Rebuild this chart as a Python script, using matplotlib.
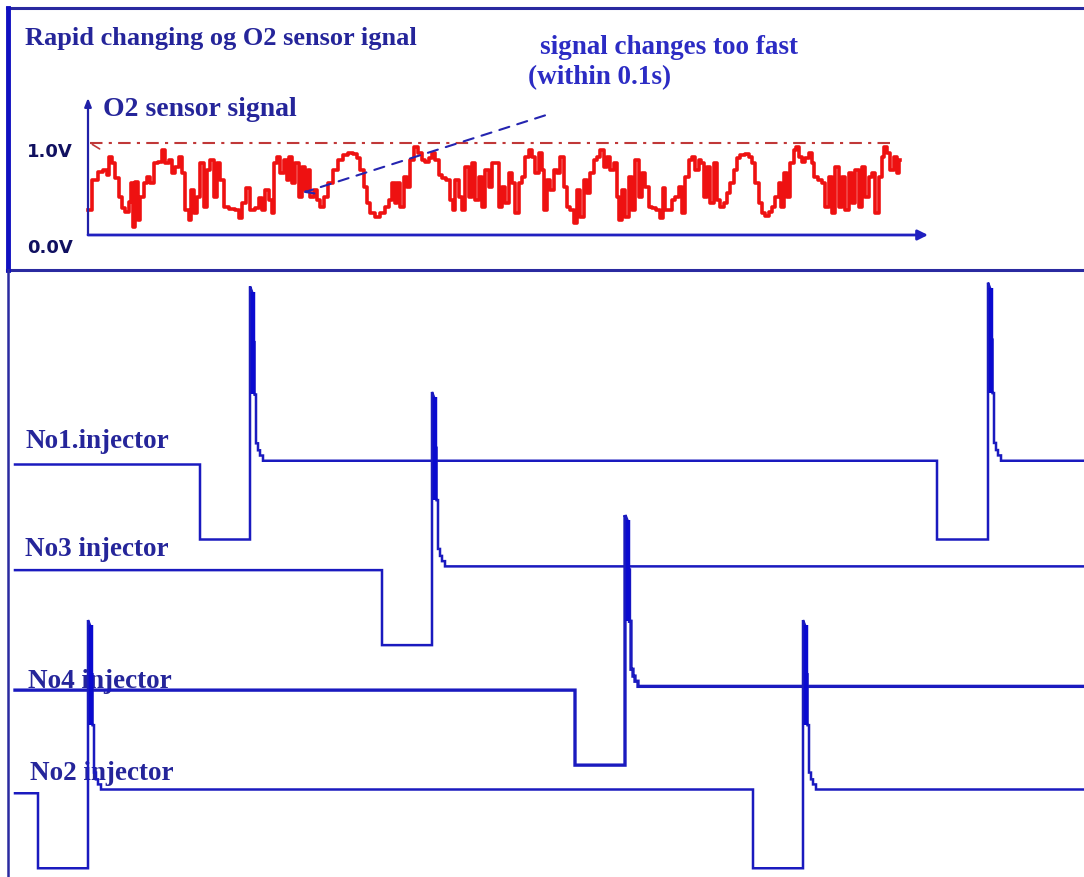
"""
O2 传感器信号快速变化 + 各缸喷油器波形示意图
"""

import numpy as np
import matplotlib.pyplot as plt

# ============================================================
# 数据：O2 传感器信号（时间 ms，电压 V）
# ============================================================

o2_t = [0, 35, 60, 85, 100, 110, 125, 145, 160, 175, 195, 210, 220, 225, 245, 250, 270, 285, 300, 320,
        335, 360, 375, 395, 410, 425, 445, 460, 475, 495, 510, 520, 535, 550, 570, 585, 600, 620, 635, 650,
        670, 685, 720, 745, 760, 775, 800, 820, 845, 860, 875, 895, 910, 925, 935, 950, 970, 985, 1000,
        1010, 1025, 1045, 1060, 1075, 1095, 1100, 1120, 1135, 1150, 1170, 1185, 1210, 1235, 1260, 1285,
        1310, 1335, 1350, 1370, 1385, 1400, 1420, 1445, 1470, 1495, 1510, 1525, 1540, 1550, 1570, 1585,
        1600, 1620, 1640, 1660, 1675, 1695, 1710, 1725, 1745, 1760, 1775, 1800, 1820, 1825, 1845, 1860,
        1875, 1895, 1910, 1925, 1945, 1960, 1975, 1995, 2010, 2025,
        2045, 2060, 2075, 2095, 2110, 2125, 2145, 2160, 2175, 2195, 2210, 2225, 2245, 2260, 2275, 2285,
        2300, 2320, 2335, 2350, 2370, 2385, 2400, 2420, 2435, 2450, 2470, 2485, 2500, 2520, 2535, 2550,
        2570, 2585, 2600, 2620, 2635, 2650, 2660, 2675, 2695, 2710, 2725, 2745, 2760, 2775, 2795, 2810,
        2825, 2850, 2870, 2875, 2895, 2910, 2925, 2945, 2960, 2975, 2995, 3010, 3025, 3045, 3060,
        3070, 3085, 3100, 3120, 3135, 3150, 3170, 3185, 3200, 3220, 3235, 3250, 3270, 3295, 3310, 3325,
        3345, 3360, 3375, 3395, 3410, 3425, 3445, 3460, 3470, 3485, 3500, 3520, 3535, 3545, 3560, 3575,
        3595, 3610, 3625, 3635, 3660, 3675, 3695, 3710, 3725, 3745, 3760, 3775, 3795, 3810, 3825, 3845,
        3860, 3875, 3895, 3910, 3925, 3945, 3960, 3975, 3985, 4000, 4020, 4035, 4050, 4060]

o2_v = [0.27, 0.60, 0.68, 0.71, 0.65, 0.85, 0.78, 0.62, 0.41, 0.29, 0.25, 0.36, 0.57, 0.09, 0.58, 0.16, 0.41, 0.57, 0.63, 0.57,
        0.78, 0.79, 0.92, 0.78, 0.82, 0.67, 0.74, 0.85, 0.67, 0.27, 0.16, 0.49, 0.24, 0.41, 0.78, 0.30, 0.71, 0.82, 0.41, 0.78,
        0.60, 0.30, 0.28, 0.27, 0.18, 0.35, 0.51, 0.27, 0.29, 0.40, 0.27, 0.49, 0.38, 0.24, 0.78, 0.85, 0.67, 0.82, 0.60,
        0.85, 0.57, 0.78, 0.41, 0.74, 0.49, 0.71, 0.41, 0.49, 0.38, 0.30, 0.41, 0.57, 0.71, 0.82, 0.87,
        0.89, 0.88, 0.84, 0.71, 0.52, 0.35, 0.24, 0.20, 0.24, 0.30, 0.38, 0.57, 0.35, 0.57, 0.30, 0.63,
        0.52, 0.82, 0.96, 0.89, 0.82, 0.79, 0.84, 0.89, 0.82, 0.65, 0.62, 0.60, 0.38, 0.27, 0.60, 0.41,
        0.27, 0.74, 0.41, 0.78, 0.38, 0.63, 0.30, 0.71, 0.52, 0.78,
        0.78, 0.30, 0.52, 0.35, 0.67, 0.57, 0.24, 0.57, 0.63, 0.85, 0.92, 0.85, 0.67, 0.89, 0.71, 0.27,
        0.60, 0.49, 0.71, 0.67, 0.85, 0.52, 0.30, 0.27, 0.13, 0.49, 0.20, 0.60, 0.46, 0.67, 0.82, 0.85,
        0.92, 0.74, 0.85, 0.71, 0.78, 0.41, 0.16, 0.49, 0.20, 0.63, 0.27, 0.82, 0.41, 0.67, 0.52, 0.30,
        0.29, 0.27, 0.18, 0.51, 0.27, 0.27, 0.38, 0.41, 0.52, 0.24, 0.63, 0.82, 0.85, 0.71, 0.82,
        0.78, 0.41, 0.74, 0.35, 0.78, 0.38, 0.30, 0.35, 0.46, 0.57, 0.71, 0.84, 0.87, 0.88, 0.85, 0.78,
        0.57, 0.35, 0.24, 0.21, 0.25, 0.30, 0.41, 0.57, 0.30, 0.67, 0.41, 0.78, 0.92, 0.96, 0.85, 0.79,
        0.84, 0.89, 0.78, 0.63, 0.60, 0.57, 0.30, 0.63, 0.24, 0.74, 0.30, 0.63, 0.27, 0.67, 0.35, 0.71,
        0.30, 0.74, 0.41, 0.63, 0.67, 0.24, 0.63, 0.85, 0.96, 0.89, 0.71, 0.85, 0.67, 0.82]

O2_T_AXIS = 4200      # 时间轴终点（ms）
O2_REF_V = 1.0        # 参考线电压
O2_REF_T = [10, 4010]
NOTE_FROM = (2285, 1.30)   # 注释箭头起点（ms, V）
NOTE_TO = (1075, 0.46)     # 注释箭头终点

# ============================================================
# 数据：喷油器波形（时间 ms，电压 V）
# ============================================================

inj_names = ['No1.injector', 'No3 injector', 'No4 injector', 'No2 injector']
inj_pulse_start = [[20.0, 93.7], [38.2], [57.5], [3.8, 75.3]]
inj_pulse_width = [[5.0, 5.1], [5.0], [5.0], [5.0, 5.0]]
inj_peak = [[40.5, 41.1], [40.5], [40.0], [39.7, 39.7]]
BATT_V = 12.0
BATT_V_AFTER = 12.6
T_START, T_END = 1.5, 108.4

# 关断尖峰衰减形状：相对时间（ms）与从峰值下降到基线的比例
spike_dt = [0, 0.2, 0.2, 0.45, 0.45, 0.6, 0.6, 0.8, 0.8, 1.0, 1.0, 1.3, 1.3, 2.0]
spike_frac = [0, 0.03, 0.32, 0.32, 0.62, 0.62, 0.90, 0.90, 0.94, 0.94, 0.97, 0.97, 1.0, 1.0]

assert len(o2_t) == len(o2_v)

# ============================================================
# 样式与布局
# ============================================================

W, H = 1084, 877
BORDER = '#2a2aa0'
TRACE = '#1a1abf'
TEXT_DARK = '#25259a'
TEXT_BLUE = '#2c2cc4'
RED = '#ee1111'
SERIF = ['Liberation Serif', 'DejaVu Serif']

ch_offset = [54.0, 37.1, 17.9, 1.4]          # 各通道 0V 在下图中的位置
ch_lw = [1.8, 1.8, 2.4, 1.8]
label_pos = [(25, 441), (25, 550), (28, 681), (30, 773)]

fig = plt.figure(figsize=(W / 100, H / 100), dpi=100)

# 背景画布（像素坐标）
canvas = fig.add_axes([0, 0, 1, 1])
canvas.set_xlim(0, W)
canvas.set_ylim(H, 0)
canvas.axis('off')

canvas.plot([7, W], [8, 8], color=BORDER, lw=2.2)
canvas.plot([7, W], [270, 270], color=BORDER, lw=2.2)
canvas.plot([7.5, 7.5], [8, 270], color='#1010c0', lw=3.5)
canvas.plot([8, 8], [270, H], color=BORDER, lw=1.8)

canvas.text(25, 38, 'Rapid changing og O2 sensor ignal', family=SERIF, weight='bold',
            fontsize=19, color=TEXT_DARK, va='center', ha='left')
canvas.text(540, 48, 'signal changes too fast', family=SERIF, weight='bold',
            fontsize=19.5, color=TEXT_BLUE, va='center', ha='left')
canvas.text(528, 78, '(within 0.1s)', family=SERIF, weight='bold',
            fontsize=19.5, color=TEXT_BLUE, va='center', ha='left')
canvas.text(103, 109, 'O2 sensor signal', family=SERIF, weight='bold',
            fontsize=20, color=TEXT_DARK, va='center', ha='left')
canvas.text(27, 152, '1.0V', family='DejaVu Sans', weight='bold',
            fontsize=13, color='#101060', va='center', ha='left')
canvas.text(27, 248, '0.0V', family='DejaVu Sans', weight='bold',
            fontsize=13, color='#101060', va='center', ha='left')

for name, (lx, ly) in zip(inj_names, label_pos):
    canvas.text(lx, ly, name, family=SERIF, weight='bold', fontsize=19.5,
                color=TEXT_DARK, va='center', ha='left', zorder=5)

# ============================================================
# 上图：O2 传感器信号
# ============================================================

ax_o2 = fig.add_axes([88 / W, 1 - 235 / H, 840 / W, 92 / H])
ax_o2.set_xlim(0, O2_T_AXIS)
ax_o2.set_ylim(0, 1)
ax_o2.axis('off')

ax_o2.plot(o2_t, o2_v, color=RED, lw=2.6, drawstyle='steps-mid',
           clip_on=False, zorder=3)

# 1.0V 参考线（点划线，左端带箭头）
ax_o2.plot(O2_REF_T, [O2_REF_V, O2_REF_V], color='#c03838', lw=1.5,
           linestyle=(0, (6, 3, 1.5, 3)), clip_on=False, zorder=2)
ax_o2.annotate('', xy=(O2_REF_T[0], O2_REF_V), xytext=(O2_REF_T[0] + 60, O2_REF_V - 0.08),
               arrowprops=dict(arrowstyle='-', color='#c03838', lw=1.2),
               annotation_clip=False)

# 坐标轴箭头
ax_o2.annotate('', xy=(0, 1.49), xytext=(0, 0),
               arrowprops=dict(arrowstyle='-|>,head_length=0.5,head_width=0.2',
                               color='#2020a8', lw=1.6, shrinkA=0, shrinkB=0),
               annotation_clip=False)
ax_o2.annotate('', xy=(O2_T_AXIS, 0), xytext=(0, 0),
               arrowprops=dict(arrowstyle='-|>,head_length=0.6,head_width=0.3',
                               color='#2020c0', lw=2.0, shrinkA=0, shrinkB=0),
               annotation_clip=False)

# 注释虚线箭头
ax_o2.annotate('', xy=NOTE_TO, xytext=NOTE_FROM,
               arrowprops=dict(arrowstyle='->,head_length=0.6,head_width=0.3',
                               color='#2424b0', lw=1.5, linestyle=(0, (5, 4)),
                               shrinkA=0, shrinkB=0),
               annotation_clip=False, zorder=4)

# ============================================================
# 下图：喷油器波形
# ============================================================

ax_inj = fig.add_axes([0, 0, 1, 1 - 270 / H])
ax_inj.set_xlim(0, W / 10)
ax_inj.set_ylim(0, (H - 270) / 6.25)
ax_inj.axis('off')


def injector_trace(starts, widths, peaks):
    """按脉冲参数拼出喷油器电压波形"""
    t, v = [T_START], [BATT_V]
    base = BATT_V
    for t0, w, pk in zip(starts, widths, peaks):
        t += [t0, t0, t0 + w, t0 + w]
        v += [base, 0.0, 0.0, pk]
        for dt, fr in zip(spike_dt[1:], spike_frac[1:]):
            t.append(t0 + w + dt)
            v.append(pk - fr * (pk - BATT_V_AFTER))
        base = BATT_V_AFTER
    t.append(T_END)
    v.append(base)
    return np.array(t), np.array(v)


for i in range(len(inj_names)):
    t, v = injector_trace(inj_pulse_start[i], inj_pulse_width[i], inj_peak[i])
    ax_inj.plot(t, v + ch_offset[i], color=TRACE, lw=ch_lw[i],
                solid_joinstyle='miter', clip_on=False, zorder=3)
    # 尖峰下降段加粗
    for t0, w, pk in zip(inj_pulse_start[i], inj_pulse_width[i], inj_peak[i]):
        tr = t0 + w + 0.3
        ax_inj.plot([tr, tr],
                    [pk - 0.03 * (pk - BATT_V_AFTER) + ch_offset[i],
                     pk - 0.62 * (pk - BATT_V_AFTER) + ch_offset[i]],
                    color='#0a0ad0', lw=3.2, solid_capstyle='butt', zorder=3)

fig.savefig('out.png', dpi=100)
